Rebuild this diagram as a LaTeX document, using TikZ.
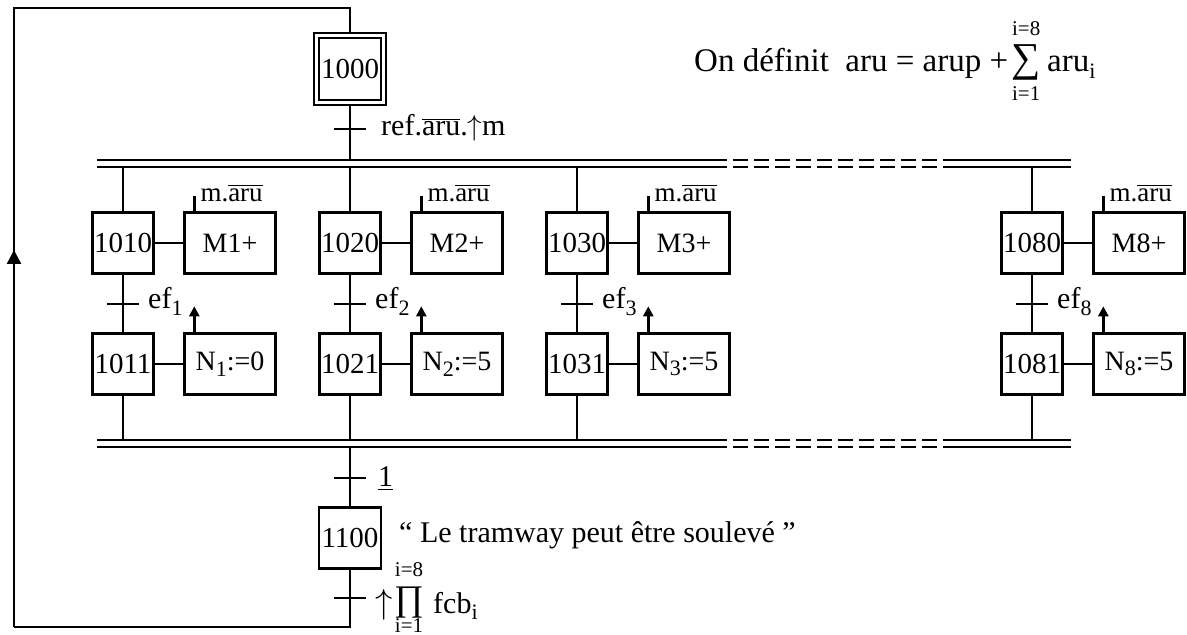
\documentclass[tikz,border=0pt]{standalone}
\usepackage{fontspec}
\setmainfont{Liberation Serif}
\usetikzlibrary{arrows.meta}
\newcommand\lowsub[1]{\raisebox{-0.45ex}{\fontsize{11}{12}\selectfont #1}}
\begin{document}
\begin{tikzpicture}[x=0.5pt,y=-0.5pt, line width=1.2pt,
  stepbox/.style={draw, minimum width=30.5pt, minimum height=30.5pt, inner sep=0pt, font=\fontsize{14.5}{16}\selectfont},
  actbox/.style={draw, minimum width=45.5pt, minimum height=30.5pt, inner sep=0pt, font=\fontsize{14}{16}\selectfont},
  lbl/.style={font=\fontsize{15}{17}\selectfont, inner sep=0pt},
  albl/.style={font=\fontsize{13.5}{16}\selectfont, inner sep=0pt},
  lim/.style={font=\fontsize{10.5}{12}\selectfont, inner sep=0pt},
  bigop/.style={font=\fontsize{18}{20}\selectfont, inner sep=0pt},
  deff/.style={font=\fontsize{16.5}{19}\selectfont, inner sep=0pt},
  bar/.style={line width=1pt},
  dbar/.style={line width=1pt, dash pattern=on 7.5pt off 3pt},
  uparr/.style={-{Triangle[length=5pt,width=5pt]}},
  looparr/.style={-{Triangle[length=7pt,width=7pt]}}
]
\useasboundingbox (0,0) rectangle (1187,635);

% initial step
\node[stepbox, minimum width=31pt, minimum height=31pt] (s1000) at (350,69) {1000};
\draw ([shift={(-4,-4)}]s1000.north west) rectangle ([shift={(4,4)}]s1000.south east);
\coordinate (s1000top) at ([yshift=2pt]s1000.north);
\coordinate (s1000bot) at ([yshift=-2pt]s1000.south);

% transition after 1000
\coordinate (t0) at (350,129);
\draw (s1000bot) -- (350,160);
\draw ([xshift=-8pt]t0) -- ([xshift=8pt]t0);
\node[lbl, anchor=base west] (lt0) at (380,136) {ref.$\overline{\mbox{aru}}$.$\uparrow$m};

% definition
\node[deff, anchor=base west] (def) at (693,72) {On définit\ \ aru = arup +};
\node[bigop, font=\fontsize{20.5}{22}\selectfont, anchor=west] (sum) at ([xshift=0.5pt]def.east |- 0,62) {∑};
\node[lim] (sumup) at (sum.center |- 0,29) {i=8};
\node[lim] (sumdn) at (sum.center |- 0,94) {i=1};
\node[deff, anchor=base west] (arui) at ([xshift=2pt]sum.east |- 0,72) {aru\lowsub{i}};

% double bars (top)
\foreach \y in {160,167} {
  \draw[bar] (97,\y) -- (727,\y);
  \draw[dbar] (733,\y) -- (943,\y);
  \draw[bar] (943,\y) -- (1071,\y);
}
% double bars (bottom)
\foreach \y in {440,447} {
  \draw[bar] (97,\y) -- (727,\y);
  \draw[dbar] (733,\y) -- (943,\y);
  \draw[bar] (943,\y) -- (1071,\y);
}

% parallel branches
\foreach \i/\cx/\a/\b/\nv in {1/123/1010/1011/0,2/350/1020/1021/5,3/577/1030/1031/5,8/1032/1080/1081/5} {
  \node[stepbox] (s\a) at (\cx,243) {\a};
  \node[actbox] (a\a) at (\cx+107,243) {M\i+};
  \node[stepbox] (s\b) at (\cx,364) {\b};
  \node[actbox] (a\b) at (\cx+107,364) {N\lowsub{\i}:=\nv};
  \draw (s\a.east) -- (a\a.west);
  \draw (s\b.east) -- (a\b.west);
  \coordinate (tb\i) at (\cx,167);
  \coordinate (bb\i) at (\cx,440);
  \draw (tb\i) -- (s\a.north);
  \draw (s\a.south) -- (s\b.north);
  \draw (s\b.south) -- (bb\i);
  \coordinate (tr\i) at (\cx,304);
  \draw ([xshift=-8pt]tr\i) -- ([xshift=8pt]tr\i);
  \node[lbl, anchor=base west] (ef\i) at ([xshift=12pt,yshift=-2.5pt]tr\i) {ef\lowsub{\i}};
  \coordinate (mt\i) at ([xshift=5.5pt,yshift=7.5pt]a\a.north west);
  \draw ([xshift=5.5pt]a\a.north west) -- (mt\i);
  \node[albl, anchor=base west] (ml\i) at ([xshift=2.5pt,yshift=-2.5pt]mt\i) {m.$\overline{\mbox{aru}}$};
  \draw[uparr] ([xshift=5.5pt]a\b.north west) -- ++(0,-26);
}

% convergence and step 1100
\node[stepbox, minimum width=31pt] (s1100) at (350,538) {1100};
\coordinate (t1) at (350,478);
\draw (350,447) -- (s1100.north);
\draw ([xshift=-8pt]t1) -- ([xshift=8pt]t1);
\node[lbl, anchor=base west] (lt1) at (377,487) {\underline{1}};
\node[lbl, anchor=base west] (com) at (398,542) {“ Le tramway peut être soulevé ”};

% final transition
\coordinate (t2) at (350,598);
\draw ([xshift=-8pt]t2) -- ([xshift=8pt]t2);
\node[font=\fontsize{18}{20}\selectfont, inner sep=0pt, anchor=base west] (up2) at (374,613) {$\uparrow$};
\node[bigop] (prod) at (409,603) {∏};
\node[lim] (produp) at (409,570) {i=8};
\node[lim] (proddn) at (409,626) {i=1};
\node[lbl, anchor=base west] (fcb) at (432,613) {fcb\lowsub{i}};

% loop back
\coordinate (lb) at (14,627);
\coordinate (la) at (14,250);
\coordinate (lt) at (14,8);
\draw (s1100.south) -- (350,627) -- (lb);
\draw[looparr] (lb) -- (la);
\draw (14,255) -- (lt) -- (350,8) -- (s1000top);
\end{tikzpicture}
\end{document}
